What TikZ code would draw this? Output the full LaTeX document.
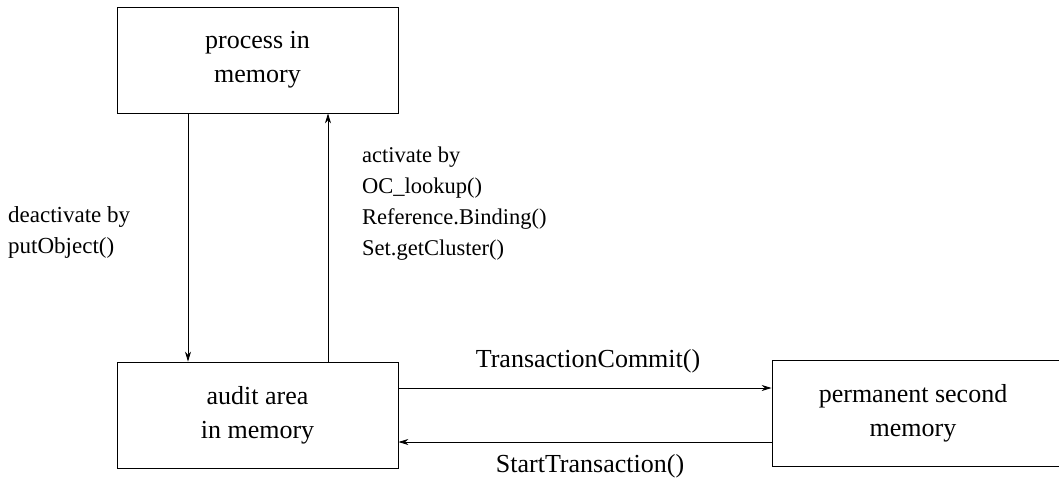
\documentclass[tikz,border=0pt]{standalone}
\usepackage{fontspec}
\setmainfont{Liberation Serif}
\usetikzlibrary{arrows.meta}
\begin{document}
\begin{tikzpicture}[x=1pt,y=-1pt,
  box/.style={draw, line width=0.8pt, minimum width=281pt, minimum height=106pt, inner sep=0pt, align=center, font=\fontsize{26}{34}\selectfont},
  lbl/.style={inner sep=0pt, font=\fontsize{23}{31}\selectfont},
  tlbl/.style={inner sep=0pt, font=\fontsize{26}{31}\selectfont},
  conn/.style={line width=0.8pt, -{Stealth[length=10pt,width=6pt]}}]
\clip (0,0) rectangle (1059,480);
\node[box] (top) at (257.5,60) {process in\\memory};
\node[box] (audit) at (257.5,415) {audit area\\in memory};
\node[box, minimum width=300pt] (perm) at (922,413) {\hspace*{-18pt}permanent second\\\hspace*{-18pt}memory};
\coordinate (cl) at (188,0);
\coordinate (cr) at (328,0);
\coordinate (hu) at (0,388);
\coordinate (hd) at (0,442);
\draw[conn] (top.south -| cl) -- (audit.north -| cl);
\draw[conn] (audit.north -| cr) -- (top.south -| cr);
\draw[conn] (audit.east |- hu) -- (perm.west |- hu);
\draw[conn] (perm.west |- hd) -- (audit.east |- hd);
\node[lbl, align=left, anchor=west] (dl) at (8,232) {deactivate by\\putObject()};
\node[lbl, align=left, anchor=west, font=\fontsize{22.5}{31}\selectfont] (al) at (362,204) {activate by\\OC\_lookup()\\Reference.Binding()\\Set.getCluster()};
\node[tlbl] (tc) at (588,361) {TransactionCommit()};
\node[tlbl] (st) at (590,466) {StartTransaction()};
\end{tikzpicture}
\end{document}
